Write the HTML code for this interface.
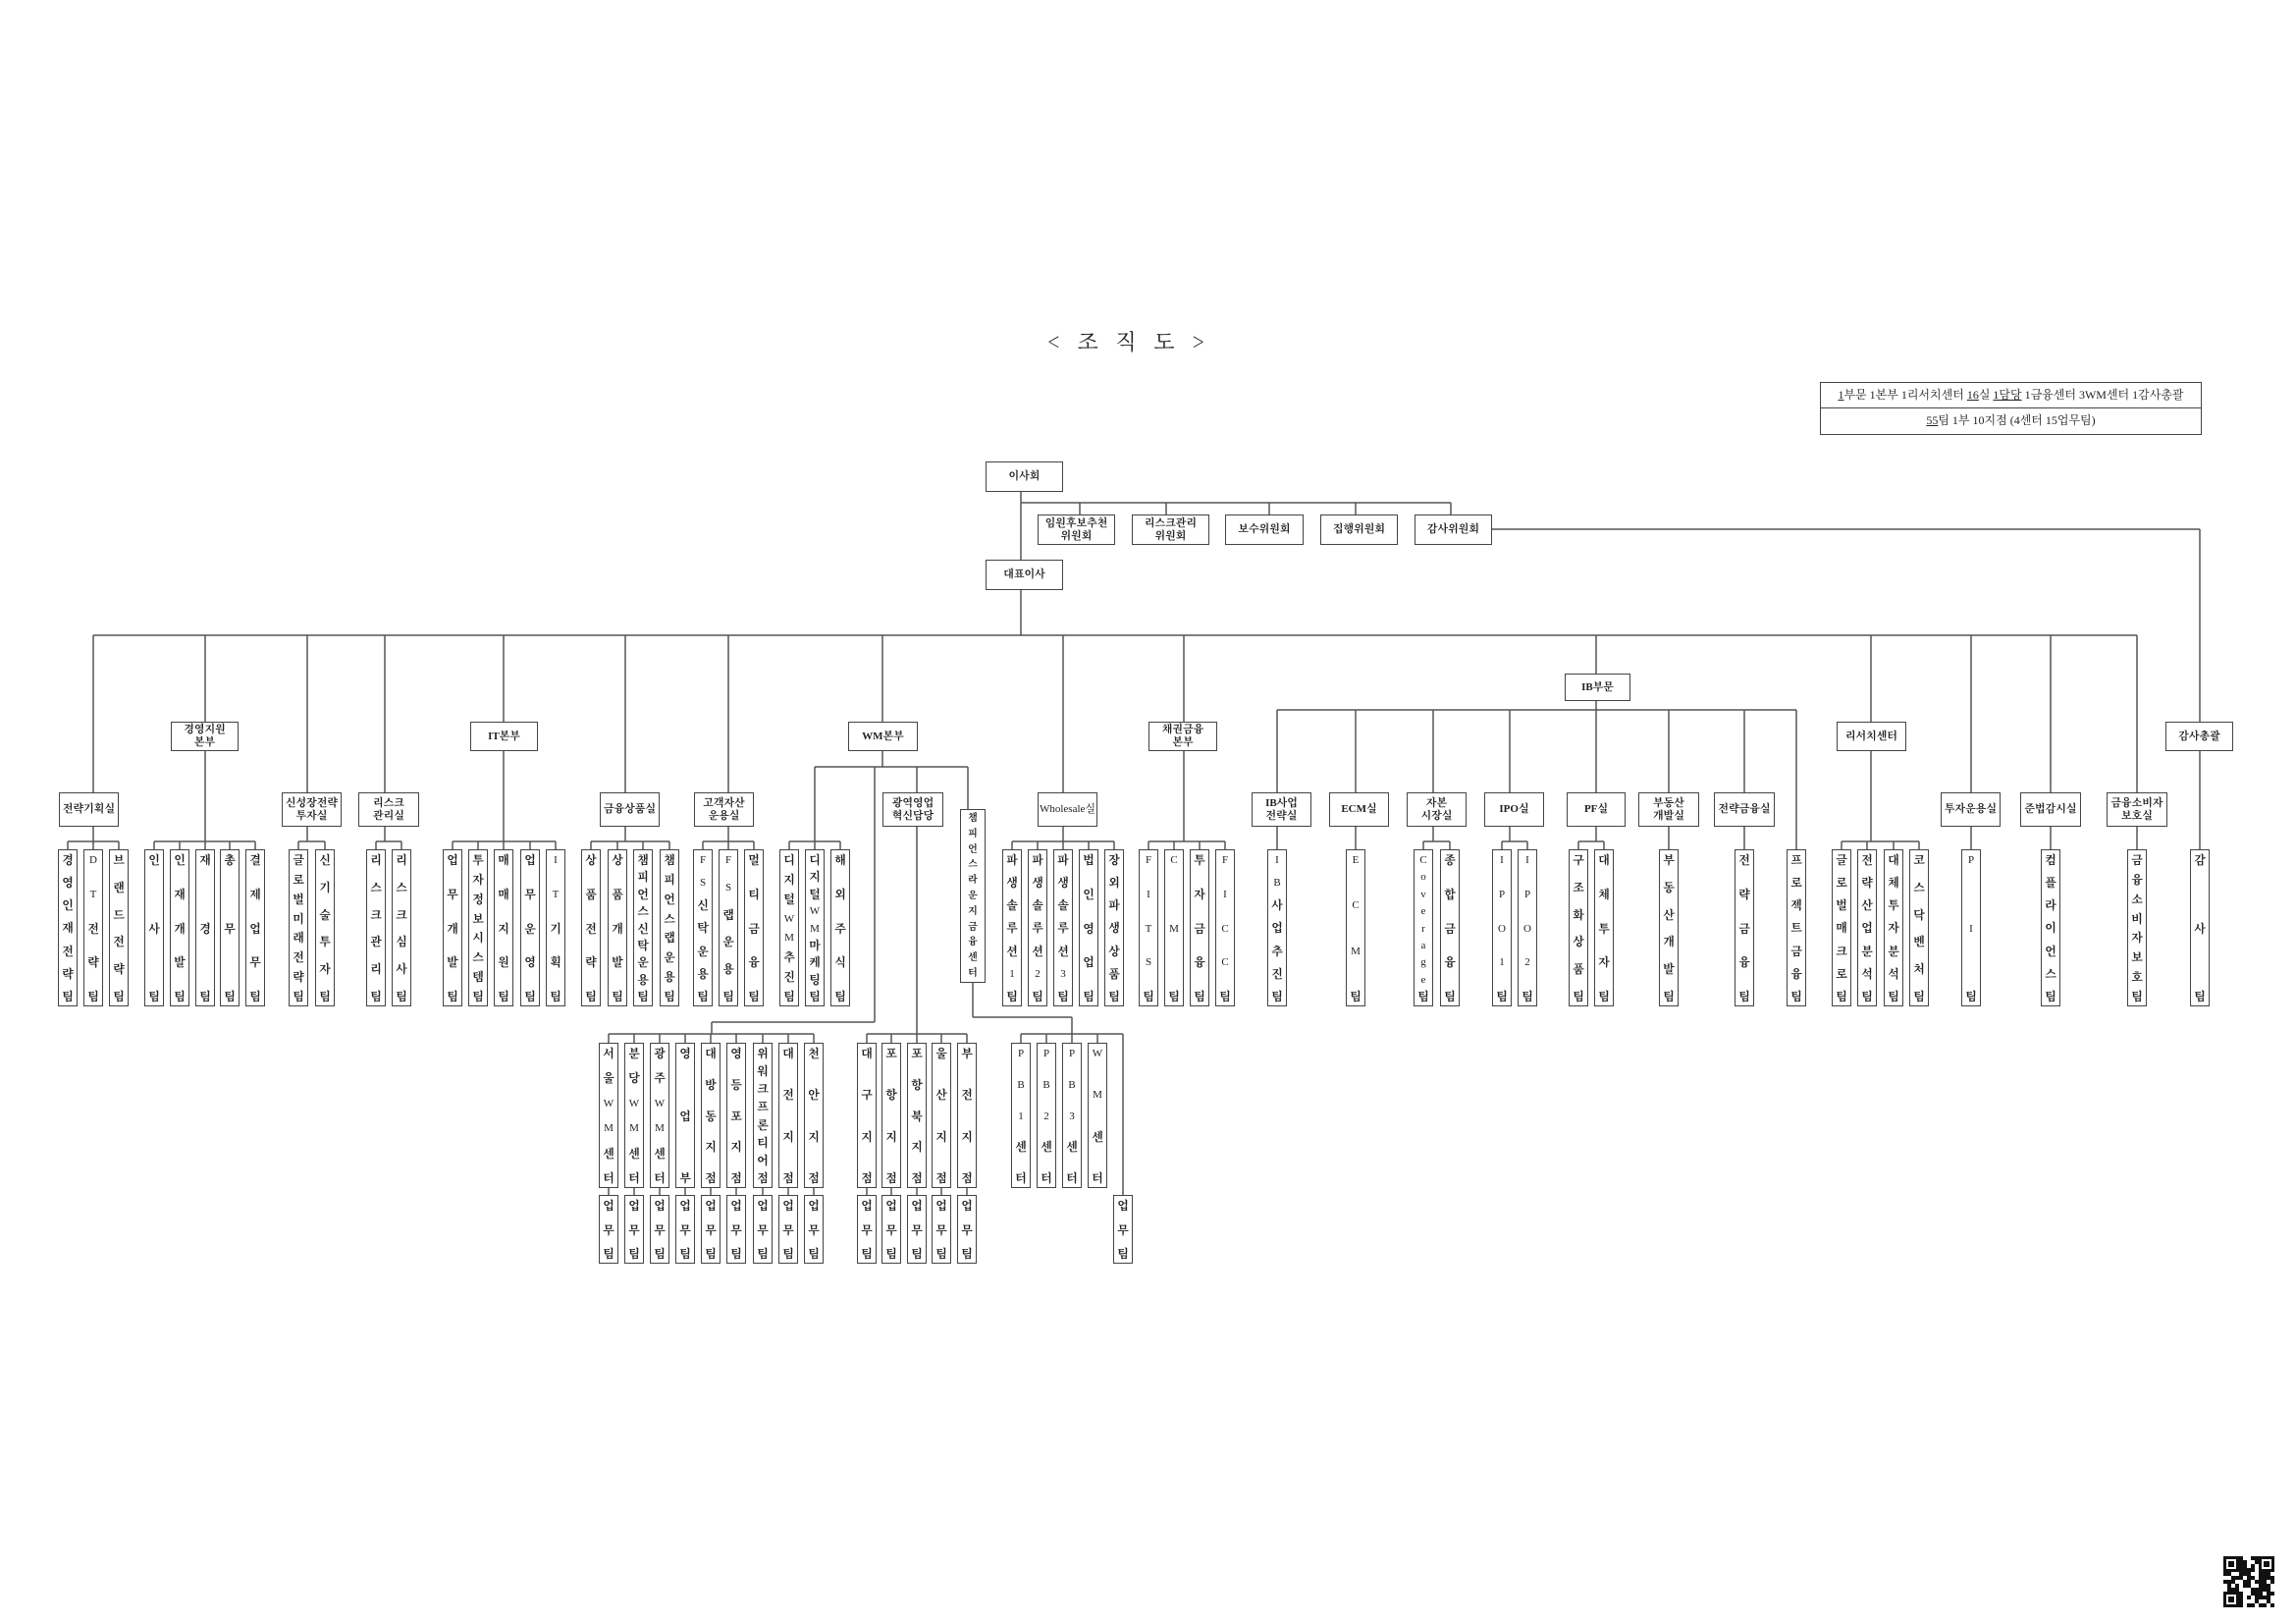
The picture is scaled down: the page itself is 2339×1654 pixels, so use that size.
<!DOCTYPE html>
<html><head><meta charset="utf-8">
<style>
html,body{margin:0;padding:0;background:#fff;}
#p{position:relative;width:2339px;height:1654px;overflow:hidden;background:#fff;font-family:"Liberation Serif","Noto Serif CJK SC","Noto Sans CJK KR",serif;color:#222;}
svg{position:absolute;left:0;top:0;}
.b{position:absolute;border:1.5px solid #444;background:#fff;box-sizing:border-box;display:flex;align-items:center;justify-content:center;text-align:center;font-size:11px;line-height:13px;font-weight:bold;}
.A{top:735px;height:30px;}
.B{top:807px;height:35px;}
.v{position:absolute;width:20px;box-sizing:border-box;border:1.5px solid #444;background:#fff;display:flex;flex-direction:column;justify-content:space-between;align-items:center;padding:3px 0 2px;font-size:12px;line-height:14px;font-weight:bold;}
.t{top:865px;height:160px;}
.r{top:1062px;height:148px;}
.w{top:1217px;height:70px;}
</style></head><body>
<div id="p">
<svg id="s" width="2339" height="1654"></svg>
<div style="position:absolute;left:1000px;top:332px;width:300px;text-align:center;white-space:nowrap;font-size:22px;letter-spacing:6px;font-family:'Noto Serif CJK SC',serif;">&lt; 조 직 도 &gt;</div>
<div style="position:absolute;left:1854px;top:389px;width:389px;height:54px;border:1.5px solid #444;box-sizing:border-box;font-size:12px;text-align:center;white-space:nowrap;">
<div style="height:25px;line-height:25px;border-bottom:1.5px solid #444;"><u>1</u>부문 1본부 1리서치센터 <u>16</u>실 <u>1담당</u> 1금융센터 3WM센터 1감사총괄</div>
<div style="line-height:25px;"><u>55</u>팀 1부 10지점 (4센터 15업무팀)</div></div>

<div class="b" style="left:1004px;top:470px;width:79px;height:31px;">이사회</div>
<div class="b" style="left:1057px;top:524px;width:79px;height:31px;">임원후보추천<br>위원회</div>
<div class="b" style="left:1153px;top:524px;width:79px;height:31px;">리스크관리<br>위원회</div>
<div class="b" style="left:1248px;top:524px;width:80px;height:31px;">보수위원회</div>
<div class="b" style="left:1345px;top:524px;width:79px;height:31px;">집행위원회</div>
<div class="b" style="left:1441px;top:524px;width:79px;height:31px;">감사위원회</div>
<div class="b" style="left:1004px;top:570px;width:79px;height:31px;">대표이사</div>

<div class="b A" style="left:174px;width:69px;">경영지원<br>본부</div>
<div class="b A" style="left:479px;width:69px;">IT본부</div>
<div class="b A" style="left:864px;width:71px;">WM본부</div>
<div class="b A" style="left:1170px;width:70px;">채권금융<br>본부</div>
<div class="b A" style="left:1871px;width:71px;">리서치센터</div>
<div class="b A" style="left:2206px;width:69px;">감사총괄</div>
<div class="b" style="left:1594px;top:686px;width:67px;height:28px;">IB부문</div>

<div class="b B" style="left:60px;width:61px;">전략기획실</div>
<div class="b B" style="left:287px;width:61px;">신성장전략<br>투자실</div>
<div class="b B" style="left:365px;width:62px;">리스크<br>관리실</div>
<div class="b B" style="left:611px;width:61px;">금융상품실</div>
<div class="b B" style="left:707px;width:61px;">고객자산<br>운용실</div>
<div class="b B" style="left:899px;width:62px;">광역영업<br>혁신담당</div>
<div class="b B" style="left:1057px;width:61px;font-weight:normal;">Wholesale실</div>
<div class="b B" style="left:1275px;width:61px;">IB사업<br>전략실</div>
<div class="b B" style="left:1354px;width:61px;">ECM실</div>
<div class="b B" style="left:1433px;width:61px;">자본<br>시장실</div>
<div class="b B" style="left:1512px;width:61px;">IPO실</div>
<div class="b B" style="left:1596px;width:60px;">PF실</div>
<div class="b B" style="left:1669px;width:62px;">부동산<br>개발실</div>
<div class="b B" style="left:1746px;width:62px;">전략금융실</div>
<div class="b B" style="left:1977px;width:61px;">투자운용실</div>
<div class="b B" style="left:2058px;width:62px;">준법감시실</div>
<div class="b B" style="left:2146px;width:62px;">금융소비자<br>보호실</div>
<div class="v" style="left:978px;top:824px;width:26px;height:177px;font-size:10px;line-height:12px;">챔피언스라운지금융센터</div>

<div class="v t" style="left:59px">경영인재전략팀</div>
<div class="v t" style="left:85px">DT전략팀</div>
<div class="v t" style="left:111px">브랜드전략팀</div>
<div class="v t" style="left:147px">인사팀</div>
<div class="v t" style="left:173px">인재개발팀</div>
<div class="v t" style="left:199px">재경팀</div>
<div class="v t" style="left:224px">총무팀</div>
<div class="v t" style="left:250px">결제업무팀</div>
<div class="v t" style="left:294px">글로벌미래전략팀</div>
<div class="v t" style="left:321px">신기술투자팀</div>
<div class="v t" style="left:373px">리스크관리팀</div>
<div class="v t" style="left:399px">리스크심사팀</div>
<div class="v t" style="left:451px">업무개발팀</div>
<div class="v t" style="left:477px">투자정보시스템팀</div>
<div class="v t" style="left:503px">매매지원팀</div>
<div class="v t" style="left:530px">업무운영팀</div>
<div class="v t" style="left:556px">IT기획팀</div>
<div class="v t" style="left:592px">상품전략팀</div>
<div class="v t" style="left:619px">상품개발팀</div>
<div class="v t" style="left:645px">챔피언스신탁운용팀</div>
<div class="v t" style="left:672px">챔피언스랩운용팀</div>
<div class="v t" style="left:706px">FS신탁운용팀</div>
<div class="v t" style="left:732px">FS랩운용팀</div>
<div class="v t" style="left:758px">멀티금융팀</div>
<div class="v t" style="left:794px">디지털WM추진팀</div>
<div class="v t" style="left:820px">디지털WM마케팅팀</div>
<div class="v t" style="left:846px">해외주식팀</div>
<div class="v t" style="left:1021px">파생솔루션1팀</div>
<div class="v t" style="left:1047px">파생솔루션2팀</div>
<div class="v t" style="left:1073px">파생솔루션3팀</div>
<div class="v t" style="left:1099px">법인영업팀</div>
<div class="v t" style="left:1125px">장외파생상품팀</div>
<div class="v t" style="left:1160px">FITS팀</div>
<div class="v t" style="left:1186px">CM팀</div>
<div class="v t" style="left:1212px">투자금융팀</div>
<div class="v t" style="left:1238px">FICC팀</div>
<div class="v t" style="left:1291px">IB사업추진팀</div>
<div class="v t" style="left:1371px">ECM팀</div>
<div class="v t" style="left:1440px">Coverage팀</div>
<div class="v t" style="left:1467px">종합금융팀</div>
<div class="v t" style="left:1520px">IPO1팀</div>
<div class="v t" style="left:1546px">IPO2팀</div>
<div class="v t" style="left:1598px">구조화상품팀</div>
<div class="v t" style="left:1624px">대체투자팀</div>
<div class="v t" style="left:1690px">부동산개발팀</div>
<div class="v t" style="left:1767px">전략금융팀</div>
<div class="v t" style="left:1820px">프로젝트금융팀</div>
<div class="v t" style="left:1866px">글로벌매크로팀</div>
<div class="v t" style="left:1892px">전략산업분석팀</div>
<div class="v t" style="left:1919px">대체투자분석팀</div>
<div class="v t" style="left:1945px">코스닥벤처팀</div>
<div class="v t" style="left:1998px">PI팀</div>
<div class="v t" style="left:2079px">컴플라이언스팀</div>
<div class="v t" style="left:2167px">금융소비자보호팀</div>
<div class="v t" style="left:2231px">감사팀</div>

<div class="v r" style="left:610px">서울WM센터</div>
<div class="v r" style="left:636px">분당WM센터</div>
<div class="v r" style="left:662px">광주WM센터</div>
<div class="v r" style="left:688px">영업부</div>
<div class="v r" style="left:714px">대방동지점</div>
<div class="v r" style="left:740px">영등포지점</div>
<div class="v r" style="left:767px">위워크프론티어점</div>
<div class="v r" style="left:793px">대전지점</div>
<div class="v r" style="left:819px">천안지점</div>
<div class="v r" style="left:873px">대구지점</div>
<div class="v r" style="left:898px">포항지점</div>
<div class="v r" style="left:924px">포항북지점</div>
<div class="v r" style="left:949px">울산지점</div>
<div class="v r" style="left:975px">부전지점</div>
<div class="v r" style="left:1030px">PB1센터</div>
<div class="v r" style="left:1056px">PB2센터</div>
<div class="v r" style="left:1082px">PB3센터</div>
<div class="v r" style="left:1108px">WM센터</div>

<div class="v w" style="left:610px">업무팀</div>
<div class="v w" style="left:636px">업무팀</div>
<div class="v w" style="left:662px">업무팀</div>
<div class="v w" style="left:688px">업무팀</div>
<div class="v w" style="left:714px">업무팀</div>
<div class="v w" style="left:740px">업무팀</div>
<div class="v w" style="left:767px">업무팀</div>
<div class="v w" style="left:793px">업무팀</div>
<div class="v w" style="left:819px">업무팀</div>
<div class="v w" style="left:873px">업무팀</div>
<div class="v w" style="left:898px">업무팀</div>
<div class="v w" style="left:924px">업무팀</div>
<div class="v w" style="left:949px">업무팀</div>
<div class="v w" style="left:975px">업무팀</div>
<div class="v w" style="left:1134px">업무팀</div>
</div>
<script>
document.querySelectorAll('.v').forEach(function(e){
  var s=e.textContent;e.textContent='';
  for(var ch of s){var sp=document.createElement('span');sp.textContent=ch;if(/[A-Za-z0-9]/.test(ch)){sp.style.fontWeight='normal';sp.style.fontSize='11px';}e.appendChild(sp);}
});
var L=[];
function h(a,b,y){L.push([a,y,b,y]);}
function v(x,a,b){L.push([x,a,x,b]);}
v(1040,501,570);h(1040,1478,512);
[1100,1188,1293,1381,1478].forEach(function(x){v(x,512,524);});
h(1520,2241,539);v(2241,539,735);
v(1040,601,647);h(95,2177,647);
[[95,807],[209,735],[313,807],[392,807],[513,735],[637,807],[742,807],[899,735],[1083,807],[1206,735],[1626,686],[1906,735],[2008,807],[2089,807],[2177,807]].forEach(function(d){v(d[0],647,d[1]);});
v(899,765,781);h(830,986,781);v(891,781,1041);v(934,781,807);v(986,781,824);
v(1626,714,723);h(1301,1830,723);
[1301,1381,1460,1538,1626,1700,1777].forEach(function(x){v(x,723,807);});
var G=[[95,842,[69,95,121]],[209,765,[157,183,209,234,260]],[313,842,[304,331]],[392,842,[383,409]],[513,765,[461,487,513,540,566]],[637,842,[602,629,655,682]],[742,842,[716,742,768]],[830,781,[804,830,856]],[1083,842,[1031,1057,1083,1109,1135]],[1206,765,[1170,1196,1222,1248]],[1301,842,[1301]],[1381,842,[1381]],[1460,842,[1450,1477]],[1538,842,[1530,1556]],[1626,842,[1608,1634]],[1700,842,[1700]],[1777,842,[1777]],[1830,723,[1830]],[1906,765,[1876,1902,1929,1955]],[2008,842,[2008]],[2089,842,[2089]],[2177,842,[2177]],[2241,765,[2241]]];
G.forEach(function(g){v(g[0],g[1],857);var m=Math.min.apply(0,g[2]),M=Math.max.apply(0,g[2]);if(M>m||m!=g[0])h(Math.min(m,g[0]),Math.max(M,g[0]),857);g[2].forEach(function(c){v(c,857,865);});});
h(725,891,1041);v(725,1041,1053);h(620,829,1053);
v(934,842,1053);h(883,985,1053);
v(991,1001,1036);h(991,1092,1036);v(1092,1036,1053);h(1040,1144,1053);v(1144,1053,1217);
[620,646,672,698,724,750,777,803,829,883,908,934,959,985,1040,1066,1092,1118].forEach(function(c){v(c,1053,1062);});
[620,646,672,698,724,750,777,803,829,883,908,934,959,985].forEach(function(c){v(c,1210,1217);});
var s=document.getElementById('s'),o='';
L.forEach(function(l){o+='<line x1="'+l[0]+'" y1="'+l[1]+'" x2="'+l[2]+'" y2="'+l[3]+'" stroke="#555" stroke-width="1.5"/>';});
var q='',seed=7;function rnd(){seed=(seed*9301+49297)%233280;return seed/233280;}
for(var i=0;i<13;i++)for(var j=0;j<13;j++){if(rnd()<0.5)q+='<rect x="'+(2265+i*4)+'" y="'+(1585+j*4)+'" width="4" height="4" fill="#111"/>';}
[[2265,1585],[2301,1585],[2265,1621]].forEach(function(f){q+='<rect x="'+f[0]+'" y="'+f[1]+'" width="16" height="16" fill="#111"/><rect x="'+(f[0]+3)+'" y="'+(f[1]+3)+'" width="10" height="10" fill="#fff"/><rect x="'+(f[0]+5)+'" y="'+(f[1]+5)+'" width="6" height="6" fill="#111"/>';});
s.innerHTML=o+q;
</script>
</body></html>
